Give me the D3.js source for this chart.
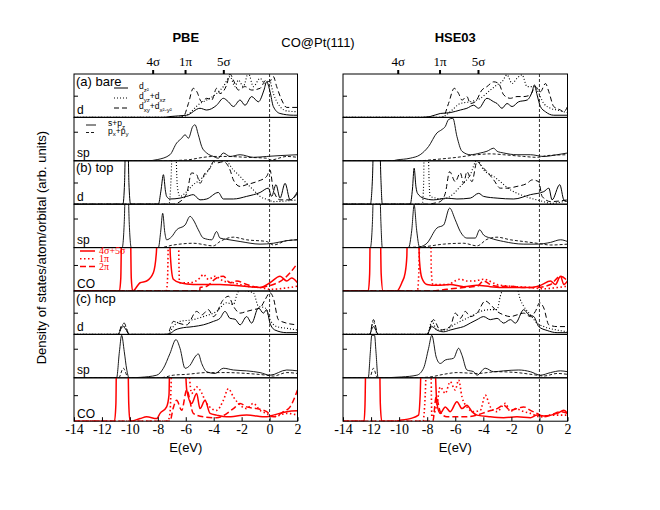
<!DOCTYPE html>
<html>
<head>
<meta charset="utf-8">
<script src="https://cdn.jsdelivr.net/npm/d3@7"></script>
<style>
  body { margin: 0; background: #fff; }
  svg { display: block; }
  .sans { font-family: "Liberation Sans", Arial, Helvetica, sans-serif; }
  .serif { font-family: "Liberation Serif", "Times New Roman", serif; }
</style>
</head>
<body>
<div id="chart"></div>
<script>
// energy axis
const energyTicks = [-14, -12, -10, -8, -6, -4, -2, 0, 2];
const panelKinds = ["d", "sp", "d", "sp", "CO", "d", "sp", "CO"];
const panelTags = ["(a) bare", "", "(b) top", "", "", "(c) hcp", "", ""];
// gas-phase CO levels marked on top
const levelNames = ["4σ", "1π", "5σ"];
const pbeLevels = [-8.37, -6.05, -3.31];
const hseLevels = [-10.1, -7.12, -4.38];
// y tick (fraction of panel height) per panel kind
const kindTick = { d: 0.5, sp: 0.67, CO: 0.6 };

// ---------- PBE ----------
const pbeBareDz2 = [[-14,0],[-7.5,0],[-7.13,0.02],[-5.93,0.05],[-4.98,0.21],[-4.5,0.17],[-3.79,0.28],[-3.31,0.44],[-2.95,0.36],[-2.59,0.25],[-2.11,0.40],[-1.76,0.28],[-1.28,0.48],[-0.8,0.36],[-0.4,0.63],[-0.21,0.82],[0.03,0.6],[0.27,0.25],[0.75,0.09],[1.7,0.05],[2,0.05]];
const pbeBareDyz = [[-14,0],[-6.5,0],[-5.93,0.05],[-4.98,0.32],[-4.5,0.40],[-3.79,0.55],[-3.31,0.71],[-2.83,0.94],[-2.47,0.71],[-2.23,0.86],[-1.88,0.71],[-1.52,1.02],[-1.16,0.71],[-0.68,0.9],[-0.32,0.78],[-0.01,0.86],[0.27,0.55],[0.75,0.25],[1.23,0.15],[2,0.13]];
const pbeBareDxy = [[-14,0],[-6.5,0],[-6.17,0.02],[-5.81,0.32],[-5.46,0.67],[-5.22,0.6],[-4.86,0.36],[-4.5,0.44],[-4.14,0.4],[-3.79,0.67],[-3.55,0.55],[-3.07,0.75],[-2.83,1.0],[-2.59,0.86],[-2.23,0.63],[-1.76,0.71],[-1.28,0.63],[-0.68,0.67],[-0.25,0.86],[-0.01,0.82],[0.27,0.94],[0.51,0.71],[0.87,0.4],[1.23,0.23],[2,0.23]];
const pbeBareS = [[-14,0],[-8.8,0],[-8.0,0.03],[-7.13,0.14],[-6.65,0.41],[-6.29,0.52],[-6.05,0.6],[-5.81,0.52],[-5.5,0.79],[-5.34,0.83],[-5.1,0.6],[-4.86,0.33],[-4.5,0.18],[-4.02,0.1],[-3.67,0.06],[-3.31,0.18],[-2.83,0.1],[-2.11,0.14],[-1.16,0.08],[-0.21,0.1],[0.75,0.12],[2,0.14]];
const pbeBareP = [[-14,0],[-7.84,0],[-5.93,0.02],[-4.74,0.08],[-4.02,0.1],[-3.07,0.1],[-1.64,0.08],[-0.21,0.06],[0.1,0.02],[1.23,0.1],[2,0.08]];

const pbeTopDz2 = [[-14,0],[-10.5,0],[-10.38,0.5],[-10.3,1.6],[-10.15,1.6],[-10.07,0.5],[-9.95,0],[-7.96,0],[-7.78,0.3],[-7.6,0.68],[-7.45,0.3],[-7.37,0.18],[-7.13,0.12],[-6.41,0.14],[-5.93,0.18],[-5.46,0.22],[-4.98,0.1],[-4.5,0.12],[-3.67,0.27],[-3.31,0.12],[-2.59,0.12],[-1.64,0.18],[-0.68,0.27],[-0.09,0.37],[0.15,0.18],[0.46,0.45],[0.75,0.14],[1.11,0.48],[1.47,0.1],[2,0.29]];
const pbeTopDyz = [[-14,0],[-7.2,0],[-7.05,0.6],[-6.95,1.5],[-6.75,1.5],[-6.6,0.4],[-6.41,0.18],[-5.93,0.29],[-5.46,0.45],[-4.98,0.56],[-4.5,0.72],[-4.14,0.91],[-3.9,1.02],[-3.31,1.05],[-2.59,0.79],[-2.11,0.64],[-1.64,0.48],[-1.16,0.33],[-0.68,0.18],[-0.09,0.1],[0.27,0.06],[2,0.1]];
const pbeTopDxy = [[-14,0],[-6.9,0],[-6.41,0.06],[-5.93,0.25],[-5.58,0.72],[-5.22,0.68],[-4.98,0.48],[-4.62,0.72],[-4.26,0.83],[-4.02,0.98],[-3.79,0.95],[-3.31,0.98],[-2.83,0.79],[-2.59,0.56],[-2.11,0.41],[-1.64,0.45],[-0.92,0.52],[-0.21,0.64],[0.03,0.79],[0.27,0.33],[0.75,0.1],[1.47,0.1],[2,0.25]];
const pbeTopS = [[-14,0],[-10.55,0],[-10.4,0.6],[-10.3,1.6],[-10.15,1.6],[-10.05,0.6],[-9.9,0],[-7.96,0],[-7.8,0.35],[-7.65,0.79],[-7.5,0.35],[-7.37,0.18],[-7.01,0.25],[-6.65,0.41],[-6.05,0.52],[-5.69,0.72],[-5.46,0.64],[-5.1,0.41],[-4.74,0.22],[-4.14,0.18],[-3.79,0.37],[-3.55,0.22],[-3.07,0.19],[-2.11,0.14],[-0.68,0.08],[0.27,0.1],[1.23,0.16],[2,0.18]];
const pbeTopP = [[-14,0],[-7.84,0],[-6.89,0.06],[-5.46,0.1],[-4.02,0.04],[-3.55,0.14],[-2.59,0.24],[-1.64,0.18],[-0.21,0.14],[0.27,0.06],[1.23,0.16],[2,0.18]];
const pbeTopCO45 = [[-14,0],[-10.75,0],[-10.65,0.3],[-10.58,1.6],[-9.97,1.6],[-9.9,0.3],[-9.8,0],[-9.27,0.19],[-8.8,0.23],[-8.32,0.42],[-8.1,0.9],[-8.0,1.6],[-7.2,1.6],[-7.1,0.8],[-6.89,0.27],[-6.41,0.19],[-5.46,0.15],[-4.5,0.15],[-3.55,0.15],[-2.59,0.13],[-1.4,0.1],[-0.68,0.08],[0.03,0.19],[0.75,0.34],[1.23,0.23],[1.58,0.3],[2,0.19]];
const pbeTopCO1pi = [[-14,0],[-7.4,0],[-7.3,0.3],[-7.22,1.6],[-6.55,1.6],[-6.45,0.2],[-6.36,0.19],[-5.69,0.19],[-4.98,0.3],[-4.74,0.38],[-4.38,0.27],[-3.9,0.34],[-3.31,0.23],[-2.59,0.19],[-1.64,0.11],[-0.68,0.08],[0.03,0.04],[2,0.11]];
const pbeTopCO2pi = [[-14,0],[-5.0,0],[-4.98,0.08],[-4.5,0.11],[-3.79,0.3],[-3.31,0.34],[-2.83,0.19],[-2.35,0.23],[-1.64,0.15],[-0.68,0.08],[-0.21,0.11],[0.27,0.15],[0.99,0.27],[1.47,0.42],[2,0.64]];

const pbeHcpDz2 = [[-14,0],[-10.85,0],[-10.6,0.15],[-10.47,0.18],[-10.3,0.12],[-10.05,0],[-7.5,0],[-7.13,0.02],[-6.77,0.1],[-6.41,0.14],[-5.46,0.18],[-4.74,0.22],[-4.02,0.3],[-3.55,0.37],[-3.19,0.53],[-2.83,0.37],[-2.47,0.35],[-2.11,0.22],[-1.64,0.41],[-1.28,0.26],[-0.8,0.61],[-0.44,0.49],[-0.21,0.57],[0.03,0.26],[0.39,0.1],[1.23,0.04],[2,0.04]];
const pbeHcpDyz = [[-14,0],[-10.85,0],[-10.6,0.18],[-10.47,0.22],[-10.3,0.15],[-10.05,0],[-7.3,0],[-6.89,0.18],[-6.41,0.3],[-5.46,0.34],[-4.74,0.41],[-3.79,0.53],[-3.07,0.73],[-2.59,0.69],[-2.3,0.95],[-2.11,1.04],[-1.64,1.0],[-1.16,0.96],[-0.8,0.65],[-0.32,0.61],[0.03,0.34],[0.51,0.18],[1.23,0.14],[2,0.1]];
const pbeHcpDxy = [[-14,0],[-10.85,0],[-10.6,0.2],[-10.4,0.26],[-10.25,0.15],[-10.05,0],[-7.3,0],[-7.1,0.15],[-6.89,0.3],[-6.53,0.26],[-5.93,0.22],[-5.22,0.53],[-4.86,0.45],[-4.38,0.57],[-4.02,0.41],[-3.31,0.8],[-2.95,0.88],[-2.59,0.65],[-2.11,0.49],[-1.64,0.53],[-1.16,0.57],[-0.68,0.61],[-0.32,0.8],[0.03,0.96],[0.27,0.84],[0.63,0.34],[1.11,0.27],[2,0.22]];
const pbeHcpS = [[-14,0],[-10.95,0],[-10.75,0.6],[-10.59,0.98],[-10.4,0.6],[-10.23,0.2],[-10.06,0],[-9.27,0.01],[-8.08,0.06],[-7.6,0.22],[-7.13,0.56],[-6.7,0.88],[-6.41,0.68],[-6.05,0.22],[-5.69,0.29],[-5.34,0.48],[-5.1,0.55],[-4.86,0.33],[-4.5,0.14],[-3.9,0.1],[-3.31,0.22],[-2.59,0.18],[-1.64,0.16],[-0.68,0.12],[0.03,0.06],[1.23,0.18],[2,0.16]];
const pbeHcpP = [[-14,0],[-10.8,0],[-10.47,0.22],[-10.11,0],[-7.84,0],[-6.89,0.06],[-5.93,0.08],[-4.5,0.12],[-3.07,0.12],[-1.64,0.1],[-0.21,0.06],[0.27,0.04],[1.23,0.12],[2,0.1]];
const pbeHcpCO45 = [[-14,0],[-11.1,0],[-11.0,0.4],[-10.95,1.6],[-10.15,1.6],[-10.08,0.4],[-9.99,0],[-9.27,0.06],[-8.8,0.1],[-8.08,0.06],[-7.84,0.18],[-7.37,0.33],[-7.2,0.6],[-7.13,1.6],[-6.1,1.6],[-5.93,0.72],[-5.58,0.41],[-5.22,0.64],[-4.98,0.29],[-4.62,0.48],[-4.26,0.18],[-3.79,0.14],[-3.07,0.1],[-1.64,0.14],[-0.21,0.1],[0.27,0.14],[1.23,0.22],[2,0.24]];
const pbeHcpCO1pi = [[-14,0],[-7.3,0],[-7.13,0.18],[-6.95,1.6],[-5.93,1.6],[-5.58,0.64],[-5.22,0.79],[-4.98,0.72],[-4.5,0.41],[-3.79,0.25],[-3.31,0.48],[-2.95,0.75],[-2.59,0.56],[-2.11,0.37],[-1.64,0.29],[-1.16,0.41],[-0.68,0.25],[-0.21,0.18],[0.27,0.1],[1.23,0.18],[2,0.14]];
const pbeHcpCO2pi = [[-14,0],[-7.13,0],[-6.9,0.3],[-6.65,0.48],[-6.29,0.25],[-5.93,0.72],[-5.46,0.18],[-4.74,0.1],[-3.79,0.08],[-2.59,0.29],[-2.11,0.41],[-1.64,0.33],[-0.92,0.29],[-0.21,0.22],[0.27,0.1],[0.99,0.22],[1.47,0.33],[2,0.72]];

// ---------- HSE03 ----------
const hseBareDz2 = [[-14,0],[-8.5,0],[-7.79,0.02],[-7.07,0.09],[-6.36,0.11],[-5.64,0.17],[-5.17,0.21],[-4.69,0.28],[-4.33,0.21],[-3.74,0.44],[-3.26,0.36],[-3.02,0.32],[-2.67,0.21],[-2.31,0.32],[-1.95,0.25],[-1.48,0.36],[-0.88,0.4],[-0.52,0.59],[-0.36,0.75],[-0.17,0.52],[0.07,0.25],[0.43,0.13],[1.02,0.05],[2,0.05]];
const hseBareDyz = [[-14,0],[-7.2,0],[-6.83,0.02],[-6.36,0.13],[-5.64,0.32],[-4.93,0.36],[-4.21,0.44],[-3.5,0.63],[-3.02,0.75],[-2.67,0.82],[-2.31,0.98],[-1.95,0.78],[-1.6,0.9],[-1.24,0.98],[-0.88,0.71],[-0.4,0.71],[-0.17,0.63],[0.31,0.32],[0.79,0.21],[1.26,0.17],[2,0.11]];
const hseBareDxy = [[-14,0],[-6.9,0],[-6.83,0.02],[-6.48,0.32],[-6.07,0.67],[-5.76,0.55],[-5.52,0.4],[-5.17,0.48],[-4.93,0.32],[-4.57,0.36],[-4.1,0.63],[-3.74,0.71],[-3.26,0.82],[-2.9,0.78],[-2.55,0.52],[-2.07,0.44],[-1.6,0.48],[-1.12,0.48],[-0.64,0.52],[-0.29,0.71],[0.07,0.59],[0.43,0.78],[0.67,0.59],[1.02,0.25],[1.5,0.17],[1.74,0.13],[2,0.25]];
const hseBareS = [[-14,0],[-10.5,0],[-10.17,0.02],[-9.21,0.06],[-8.5,0.14],[-7.9,0.33],[-7.31,0.64],[-6.95,0.72],[-6.71,0.79],[-6.48,0.95],[-6.17,0.98],[-5.88,0.56],[-5.52,0.22],[-4.93,0.14],[-4.21,0.18],[-3.74,0.22],[-3.26,0.29],[-3.02,0.22],[-2.55,0.18],[-1.6,0.14],[-0.64,0.14],[0.31,0.1],[1.26,0.14],[2,0.18]];
const hseBareP = [[-14,0],[-8.5,0],[-7.79,0.02],[-5.88,0.08],[-4.45,0.14],[-3.5,0.16],[-2.55,0.14],[-1.12,0.1],[-0.17,0.08],[0.55,0.12],[2,0.14]];

const hseTopDz2 = [[-14,0],[-12.05,0],[-11.9,0.6],[-11.8,1.6],[-11.4,1.6],[-11.3,0.6],[-11.2,0],[-9.21,0],[-9.05,0.35],[-8.93,0.83],[-8.8,0.4],[-8.69,0.25],[-8.26,0.14],[-7.55,0.1],[-6.6,0.14],[-5.88,0.12],[-4.93,0.14],[-4.33,0.25],[-3.98,0.18],[-3.02,0.14],[-1.83,0.12],[-0.64,0.22],[0.31,0.29],[0.67,0.37],[0.9,0.1],[1.45,0.45],[1.74,0.1],[2,0.06]];
const hseTopDyz = [[-14,0],[-8.35,0],[-8.25,0.5],[-8.21,1.5],[-7.95,1.5],[-7.85,0.4],[-7.79,0.18],[-6.83,0.12],[-6.36,0.18],[-5.64,0.41],[-4.93,0.68],[-4.45,1.02],[-3.98,0.79],[-3.26,0.64],[-2.79,0.52],[-2.07,0.33],[-1.36,0.22],[-0.64,0.14],[0.31,0.06],[0.79,0.02],[2,0.08]];
const hseTopDxy = [[-14,0],[-7.8,0],[-7.55,0.02],[-7.07,0.06],[-6.71,0.25],[-6.4,0.75],[-6.0,0.52],[-5.64,0.72],[-5.4,0.48],[-5.17,0.75],[-4.81,0.52],[-4.45,0.98],[-4.1,0.87],[-3.74,0.75],[-3.26,0.56],[-2.79,0.37],[-2.31,0.37],[-1.6,0.41],[-0.88,0.48],[-0.52,0.56],[-0.05,0.52],[0.19,0.18],[0.79,0.06],[2,0.1]];
const hseTopS = [[-14,0],[-12.05,0],[-11.9,0.6],[-11.8,1.6],[-11.4,1.6],[-11.3,0.6],[-11.2,0],[-9.33,0],[-9.1,0.4],[-8.93,0.98],[-8.75,0.4],[-8.55,0.02],[-8.02,0.1],[-7.31,0.45],[-6.83,0.52],[-6.4,0.91],[-6.0,0.64],[-5.64,0.37],[-5.17,0.22],[-4.57,0.22],[-4.26,0.41],[-3.98,0.29],[-3.5,0.22],[-2.55,0.14],[-1.12,0.08],[-0.17,0.08],[0.79,0.12],[1.5,0.18],[2,0.14]];
const hseTopP = [[-14,0],[-10.17,0],[-8.26,0.02],[-6.83,0.08],[-5.4,0.1],[-4.45,0.04],[-3.74,0.19],[-3.02,0.24],[-2.07,0.18],[-1.12,0.14],[-0.17,0.1],[0.79,0.06],[2,0.08]];
const hseTopCO45 = [[-14,0],[-12.2,0],[-12.1,0.4],[-12.05,1.6],[-11.35,1.6],[-11.28,0.4],[-11.15,0],[-10.17,0],[-9.81,0.19],[-9.57,0.42],[-9.45,0.8],[-9.4,1.6],[-8.65,1.6],[-8.55,0.7],[-8.38,0.3],[-8.02,0.15],[-7.31,0.13],[-6.36,0.15],[-5.4,0.1],[-4.45,0.13],[-3.5,0.1],[-2.55,0.08],[-1.6,0.08],[-0.64,0.08],[0.07,0.13],[0.79,0.23],[1.14,0.15],[1.5,0.34],[1.74,0.15],[2,0.23]];
const hseTopCO1pi = [[-14,0],[-8.7,0],[-8.6,0.4],[-8.5,1.6],[-7.75,1.6],[-7.71,0.5],[-7.6,0.15],[-6.6,0.15],[-5.64,0.27],[-5.17,0.23],[-4.69,0.23],[-3.98,0.27],[-3.02,0.15],[-2.07,0.11],[-0.64,0.08],[0.31,0.05],[1.26,0.08],[2,0.11]];
const hseTopCO2pi = [[-14,0],[-7.8,0],[-6.6,0.04],[-5.4,0.08],[-4.45,0.11],[-3.98,0.23],[-3.5,0.15],[-3.02,0.11],[-2.07,0.11],[-1.12,0.08],[-0.17,0.08],[0.79,0.15],[1.5,0.34],[2,0.23]];

const hseHcpDz2 = [[-14,0],[-12.1,0],[-11.95,0.12],[-11.83,0.18],[-11.7,0.12],[-11.48,0],[-8.02,0],[-7.67,0.18],[-7.31,0.1],[-6.83,0.06],[-6.36,0.1],[-5.88,0.14],[-5.4,0.18],[-4.93,0.26],[-4.45,0.34],[-3.98,0.41],[-3.5,0.34],[-3.02,0.37],[-2.55,0.26],[-2.07,0.34],[-1.71,0.26],[-1.12,0.57],[-0.76,0.45],[-0.4,0.41],[-0.05,0.18],[0.55,0.09],[1.26,0.04],[2,0.04]];
const hseHcpDyz = [[-14,0],[-12.1,0],[-11.83,0.3],[-11.55,0],[-8.0,0],[-7.67,0.3],[-7.3,0.1],[-6.83,0.1],[-5.88,0.26],[-4.93,0.41],[-4.21,0.53],[-3.5,0.57],[-3.02,0.57],[-2.79,0.88],[-2.55,1.05],[-1.6,1.05],[-1.36,0.8],[-1.12,0.65],[-0.64,0.45],[-0.17,0.26],[0.31,0.18],[1.26,0.1],[2,0.06]];
const hseHcpDxy = [[-14,0],[-12.1,0],[-11.83,0.34],[-11.5,0],[-8.0,0],[-7.55,0.34],[-7.07,0.1],[-6.36,0.18],[-6.0,0.49],[-5.64,0.37],[-5.29,0.53],[-4.93,0.41],[-4.45,0.49],[-3.86,0.77],[-3.5,0.69],[-3.02,0.53],[-2.55,0.45],[-2.07,0.41],[-1.6,0.45],[-1.12,0.49],[-0.64,0.41],[-0.29,0.53],[0.02,0.73],[0.31,0.61],[0.67,0.22],[1.26,0.18],[2,0.18]];
const hseHcpS = [[-14,0],[-12.2,0],[-12.05,0.6],[-11.95,0.98],[-11.75,0.98],[-11.65,0.6],[-11.5,0],[-9.81,0.02],[-8.74,0.06],[-8.26,0.22],[-7.9,0.68],[-7.67,0.98],[-7.36,0.48],[-7.07,0.33],[-6.71,0.41],[-6.12,0.45],[-5.76,0.68],[-5.52,0.52],[-5.17,0.18],[-4.69,0.14],[-4.45,0.06],[-3.86,0.22],[-3.26,0.14],[-2.55,0.16],[-1.48,0.18],[-0.64,0.14],[0.07,0.06],[0.79,0.12],[1.5,0.16],[2,0.14]];
const hseHcpP = [[-14,0],[-12.1,0],[-11.83,0.22],[-11.55,0],[-9.0,0],[-7.79,0.02],[-6.83,0.08],[-5.88,0.12],[-4.45,0.1],[-3.02,0.14],[-1.6,0.12],[-0.17,0.06],[0.31,0.04],[1.26,0.1],[2,0.08]];
const hseHcpCO45 = [[-14,0],[-12.5,0],[-12.43,0.4],[-12.36,1.6],[-11.4,1.6],[-11.34,0.4],[-11.24,0],[-10.17,0],[-9.93,0.02],[-9.21,0.06],[-8.62,0.14],[-8.5,0.6],[-8.4,1.6],[-7.5,1.6],[-7.31,0.41],[-7.07,0.18],[-6.71,0.33],[-6.36,0.22],[-5.88,0.45],[-5.52,0.29],[-5.17,0.37],[-4.81,0.22],[-4.45,0.14],[-3.5,0.1],[-2.55,0.08],[-1.6,0.1],[-0.64,0.08],[-0.17,0.14],[0.31,0.12],[1.26,0.18],[1.74,0.25],[2,0.18]];
const hseHcpCO1pi = [[-14,0],[-8.3,0],[-8.14,0.6],[-8.02,1.6],[-7.75,1.6],[-7.67,0.1],[-7.3,0.4],[-7.07,0.79],[-6.71,0.64],[-6.36,0.91],[-6.0,0.72],[-5.76,0.95],[-5.52,0.56],[-5.17,0.33],[-4.69,0.22],[-4.21,0.25],[-3.86,0.6],[-3.5,0.33],[-3.02,0.22],[-2.43,0.41],[-2.07,0.22],[-1.71,0.29],[-1.12,0.22],[-0.64,0.18],[0.07,0.1],[0.79,0.14],[2,0.14]];
const hseHcpCO2pi = [[-14,0],[-7.6,0],[-7.36,0.56],[-7.07,0.22],[-6.6,0.1],[-5.4,0.1],[-4.45,0.14],[-3.74,0.22],[-3.02,0.29],[-2.55,0.37],[-2.07,0.25],[-1.6,0.29],[-1.12,0.33],[-0.64,0.25],[-0.17,0.18],[0.31,0.1],[0.79,0.14],[1.5,0.22],[2,0.18]];

// line styles
const styles = {
  dSolid:  { color: "#000", width: 1,   dash: null },
  dDot:    { color: "#000", width: 1.1, dash: "1,2" },
  dDash:   { color: "#000", width: 1,   dash: "5,3" },
  spSolid: { color: "#000", width: 0.9, dash: null },
  spDash:  { color: "#000", width: 0.9, dash: "3,2" },
  coSolid: { color: "#ff0000", width: 1.5, dash: null },
  coDot:   { color: "#ff0000", width: 1.6, dash: "1.5,2.5" },
  coDash:  { color: "#ff0000", width: 1.5, dash: "6,3" }
};

const plots = [
  { title: "PBE", x0: 74, x1: 297.5, levels: pbeLevels, tags: true,
    panels: [
      [[pbeBareDz2, "dSolid"], [pbeBareDyz, "dDot"], [pbeBareDxy, "dDash"]],
      [[pbeBareS, "spSolid"], [pbeBareP, "spDash"]],
      [[pbeTopDz2, "dSolid"], [pbeTopDyz, "dDot"], [pbeTopDxy, "dDash"]],
      [[pbeTopS, "spSolid"], [pbeTopP, "spDash"]],
      [[pbeTopCO2pi, "coDash"], [pbeTopCO1pi, "coDot"], [pbeTopCO45, "coSolid"]],
      [[pbeHcpDz2, "dSolid"], [pbeHcpDyz, "dDot"], [pbeHcpDxy, "dDash"]],
      [[pbeHcpS, "spSolid"], [pbeHcpP, "spDash"]],
      [[pbeHcpCO2pi, "coDash"], [pbeHcpCO1pi, "coDot"], [pbeHcpCO45, "coSolid"]]
    ] },
  { title: "HSE03", x0: 343, x1: 567.5, levels: hseLevels, tags: false,
    panels: [
      [[hseBareDz2, "dSolid"], [hseBareDyz, "dDot"], [hseBareDxy, "dDash"]],
      [[hseBareS, "spSolid"], [hseBareP, "spDash"]],
      [[hseTopDz2, "dSolid"], [hseTopDyz, "dDot"], [hseTopDxy, "dDash"]],
      [[hseTopS, "spSolid"], [hseTopP, "spDash"]],
      [[hseTopCO2pi, "coDash"], [hseTopCO1pi, "coDot"], [hseTopCO45, "coSolid"]],
      [[hseHcpDz2, "dSolid"], [hseHcpDyz, "dDot"], [hseHcpDxy, "dDash"]],
      [[hseHcpS, "spSolid"], [hseHcpP, "spDash"]],
      [[hseHcpCO2pi, "coDash"], [hseHcpCO1pi, "coDot"], [hseHcpCO45, "coSolid"]]
    ] }
];

const width = 660, height = 510;
const plotTop = 74, panelH = 43.4;
const plotBottom = plotTop + panelH * panelKinds.length;

const svg = d3.select("#chart").append("svg")
  .attr("width", width)
  .attr("height", height);

// titles
svg.append("text").attr("class", "sans").attr("x", 318).attr("y", 47)
  .attr("text-anchor", "middle").attr("font-size", 13).text("CO@Pt(111)");

svg.append("text").attr("class", "sans")
  .attr("transform", `translate(46,${(plotTop + plotBottom) / 2}) rotate(-90)`)
  .attr("text-anchor", "middle").attr("font-size", 13)
  .text("Density of states/atom/orbital (arb. units)");

function styleLine(sel, st) {
  sel.attr("fill", "none")
    .attr("stroke", st.color)
    .attr("stroke-width", st.width)
    .attr("stroke-dasharray", st.dash);
}

// text with subscript parts: [[text, isSub], ...]
function subText(g, x, y, size, parts, cls, fill) {
  const t = g.append("text").attr("class", cls).attr("x", x).attr("y", y)
    .attr("font-size", size).attr("fill", fill || "#000");
  let down = false;
  parts.forEach(([s, sub]) => {
    const sp = t.append("tspan").text(s);
    if (sub && !down) { sp.attr("dy", size * 0.3).attr("font-size", size * 0.72); down = true; }
    else if (sub) { sp.attr("font-size", size * 0.72); }
    else if (!sub && down) { sp.attr("dy", -size * 0.3); down = false; }
  });
}

plots.forEach((p, pi) => {
  const x = d3.scaleLinear().domain([-14, 2]).range([p.x0, p.x1]);
  const g = svg.append("g");
  const cx = (p.x0 + p.x1) / 2;

  g.append("text").attr("class", "sans").attr("x", cx).attr("y", 42)
    .attr("text-anchor", "middle").attr("font-size", 13).attr("font-weight", "bold")
    .text(p.title);

  p.panels.forEach((series, i) => {
    const y0 = plotTop + i * panelH;
    const y = d3.scaleLinear().domain([0, 1]).range([y0 + panelH, y0]);
    const clipId = `clip-${pi}-${i}`;
    g.append("clipPath").attr("id", clipId).append("rect")
      .attr("x", p.x0).attr("y", y0).attr("width", p.x1 - p.x0).attr("height", panelH);

    const line = d3.line()
      .x(d => x(d[0]))
      .y(d => y(d[1]))
      .curve(d3.curveMonotoneX);

    const pg = g.append("g").attr("clip-path", `url(#${clipId})`);
    series.forEach(([data, key]) => {
      pg.append("path").attr("d", line(data)).call(styleLine, styles[key]);
    });

    // small inner tick on the left
    const yAxis = d3.axisLeft(y).tickValues([kindTick[panelKinds[i]]]).tickSize(-4).tickFormat("");
    g.append("g").attr("transform", `translate(${p.x0},0)`).call(yAxis)
      .call(a => a.select(".domain").remove())
      .call(a => a.selectAll("line").attr("stroke-width", 1));

    // panel frame
    g.append("rect").attr("x", p.x0).attr("y", y0)
      .attr("width", p.x1 - p.x0).attr("height", panelH)
      .attr("fill", "none").attr("stroke", "#000").attr("stroke-width", 1);

    if (p.tags) {
      g.append("text").attr("class", "sans").attr("x", p.x0 + 3).attr("y", y0 + panelH - 3.5)
        .attr("font-size", 12).text(panelKinds[i]);
      if (panelTags[i]) {
        g.append("text").attr("class", "sans").attr("x", p.x0 + 2).attr("y", y0 + 11.5)
          .attr("font-size", 13).text(panelTags[i]);
      }
    }
  });

  // Fermi level
  g.append("line").attr("x1", x(0)).attr("x2", x(0)).attr("y1", plotTop).attr("y2", plotBottom)
    .attr("stroke", "#000").attr("stroke-width", 0.8).attr("stroke-dasharray", "3,2");

  // bottom axis
  const xAxis = d3.axisBottom(x).tickValues(energyTicks).tickSize(-4).tickPadding(3)
    .tickFormat(d => String(d));
  g.append("g").attr("transform", `translate(0,${plotBottom})`).call(xAxis)
    .call(a => a.select(".domain").remove())
    .call(a => a.selectAll("text").attr("class", "serif").attr("font-size", 14).attr("fill", "#000"));

  g.append("text").attr("class", "sans").attr("x", cx).attr("y", 452)
    .attr("text-anchor", "middle").attr("font-size", 13).text("E(eV)");

  // CO levels on top
  const lvAxis = d3.axisTop(x).tickValues(p.levels).tickSize(4).tickPadding(4)
    .tickFormat((d, k) => levelNames[k]);
  g.append("g").attr("transform", `translate(0,${plotTop})`).call(lvAxis)
    .call(a => a.select(".domain").remove())
    .call(a => a.selectAll("line").attr("stroke-width", 2))
    .call(a => a.selectAll("text").attr("class", "serif").attr("font-size", 13).attr("fill", "#000"));
});

// legends (left plot)
const lg = svg.append("g");
const dLegend = [["dSolid", [["d", false], ["z²", true]]],
                 ["dDot", [["d", false], ["yz", true], ["+d", false], ["xz", true]]],
                 ["dDash", [["d", false], ["xy", true], ["+d", false], ["x²-y²", true]]]];
dLegend.forEach(([key, parts], k) => {
  const yy = 88 + k * 10;
  lg.append("line").attr("x1", 114).attr("x2", 128).attr("y1", yy).attr("y2", yy).call(styleLine, styles[key]);
  subText(lg, 139, yy + 1, 8.5, parts, "sans");
});
const spLegend = [["spSolid", [["s+p", false], ["z", true]]],
                  ["spDash", [["p", false], ["x", true], ["+p", false], ["y", true]]]];
spLegend.forEach(([key, parts], k) => {
  const yy = 125 + k * 7.5;
  lg.append("line").attr("x1", 86).attr("x2", 96).attr("y1", yy).attr("y2", yy).call(styleLine, styles[key]);
  subText(lg, 108, yy + 1, 8.5, parts, "sans");
});
const coLegend = [["coSolid", "4σ+5σ"], ["coDot", "1π"], ["coDash", "2π"]];
coLegend.forEach(([key, label], k) => {
  const yy = 251 + k * 7.8;
  lg.append("line").attr("x1", 80).attr("x2", 95).attr("y1", yy).attr("y2", yy).call(styleLine, styles[key]);
  lg.append("text").attr("class", "serif").attr("x", 99).attr("y", yy + 3)
    .attr("font-size", 10).attr("fill", "#ff0000").text(label);
});
</script>
</body>
</html>
